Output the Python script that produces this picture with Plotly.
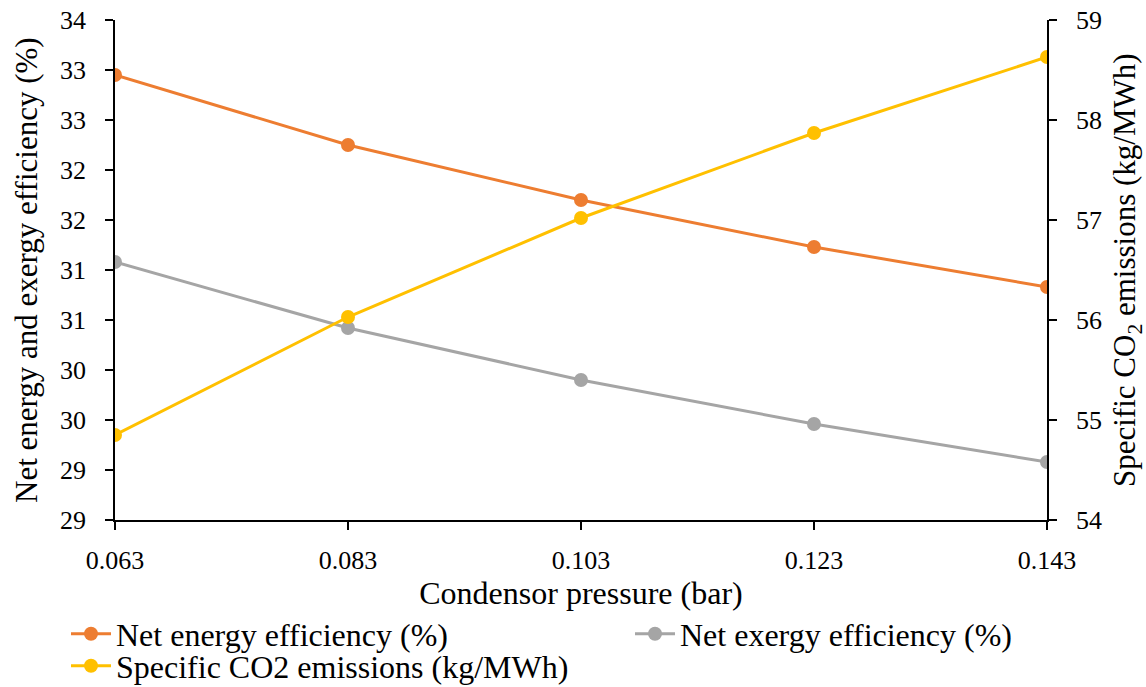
import plotly.graph_objects as go

# Condenser pressure sweep (bar)
pressure = [0.063, 0.083, 0.103, 0.123, 0.143]

# Efficiencies (%) on the left axis
net_energy_eff = [33.45, 32.75, 32.20, 31.73, 31.33]
net_exergy_eff = [31.58, 30.92, 30.40, 29.96, 29.58]

# Specific CO2 emissions (kg/MWh) on the right axis
co2_emissions = [54.85, 56.03, 57.02, 57.87, 58.63]

# Left-axis tick labels (rounded to whole numbers)
left_tickvals = [29, 29.5, 30, 30.5, 31, 31.5, 32, 32.5, 33, 33.5, 34]
left_ticktext = ["29", "29", "30", "30", "31", "31", "32", "32", "33", "33", "34"]
right_tickvals = [54, 55, 56, 57, 58, 59]

FONT = "Liberation Serif, Times New Roman, serif"
W, H = 1146, 687
L, R, T, B = 115, 99, 20, 167
PLOT_W = W - L - R

fig = go.Figure()
fig.add_trace(go.Scatter(
    x=pressure, y=net_energy_eff, name="Net energy efficiency (%)",
    mode="lines+markers", line=dict(color="#ED7D31", width=3),
    marker=dict(size=14, color="#ED7D31"), yaxis="y", legend="legend"))
fig.add_trace(go.Scatter(
    x=pressure, y=net_exergy_eff, name="Net exergy efficiency (%)",
    mode="lines+markers", line=dict(color="#A5A5A5", width=3),
    marker=dict(size=14, color="#A5A5A5"), yaxis="y", legend="legend2"))
fig.add_trace(go.Scatter(
    x=pressure, y=co2_emissions, name="Specific CO2 emissions (kg/MWh)",
    mode="lines+markers", line=dict(color="#FFC000", width=3),
    marker=dict(size=14, color="#FFC000"), yaxis="y2", legend="legend3"))

axis_common = dict(showgrid=False, zeroline=False, showline=True,
                   linecolor="black", linewidth=1.5, ticks="outside",
                   ticklen=8, tickwidth=1.5, tickcolor="black",
                   tickfont=dict(family=FONT, size=26, color="black"))


def legend_at(x_px, y_px):
    return dict(xref="container", yref="container",
                x=x_px / W, xanchor="left", y=1 - y_px / H, yanchor="middle",
                font=dict(family=FONT, size=32, color="black"),
                bgcolor="rgba(0,0,0,0)", itemwidth=40)


def y_title(text, x_px):
    # rotated axis title, x given in page pixels
    return dict(text=text, x=(x_px - L) / PLOT_W, y=0.5,
                xref="paper", yref="paper", showarrow=False, textangle=-90,
                font=dict(family=FONT, size=31, color="black"),
                xanchor="center", yanchor="middle")


fig.update_layout(
    width=W, height=H,
    margin=dict(l=L, r=R, t=T, b=B, autoexpand=False),
    paper_bgcolor="white", plot_bgcolor="white",
    font=dict(family=FONT, color="black"),
    showlegend=True,
    xaxis=dict(range=[0.063, 0.143], tickvals=pressure,
               ticktext=[f"{p:.3f}" for p in pressure],
               ticklabelstandoff=8,
               title=dict(text="Condensor pressure (bar)",
                          font=dict(family=FONT, size=32), standoff=8),
               **axis_common),
    yaxis=dict(range=[29, 34], tickvals=left_tickvals, ticktext=left_ticktext,
               ticklabelstandoff=14, **axis_common),
    yaxis2=dict(range=[54, 59], tickvals=right_tickvals, overlaying="y",
                side="right", ticklabelstandoff=14, **axis_common),
    legend=legend_at(66, 634),
    legend2=legend_at(630, 634),
    legend3=legend_at(66, 666),
    annotations=[
        y_title("Net energy and exergy efficiency (%)", 26),
        y_title("Specific CO<sub>2</sub> emissions (kg/MWh)", 1127),
    ],
)

fig.write_html("out.html")
